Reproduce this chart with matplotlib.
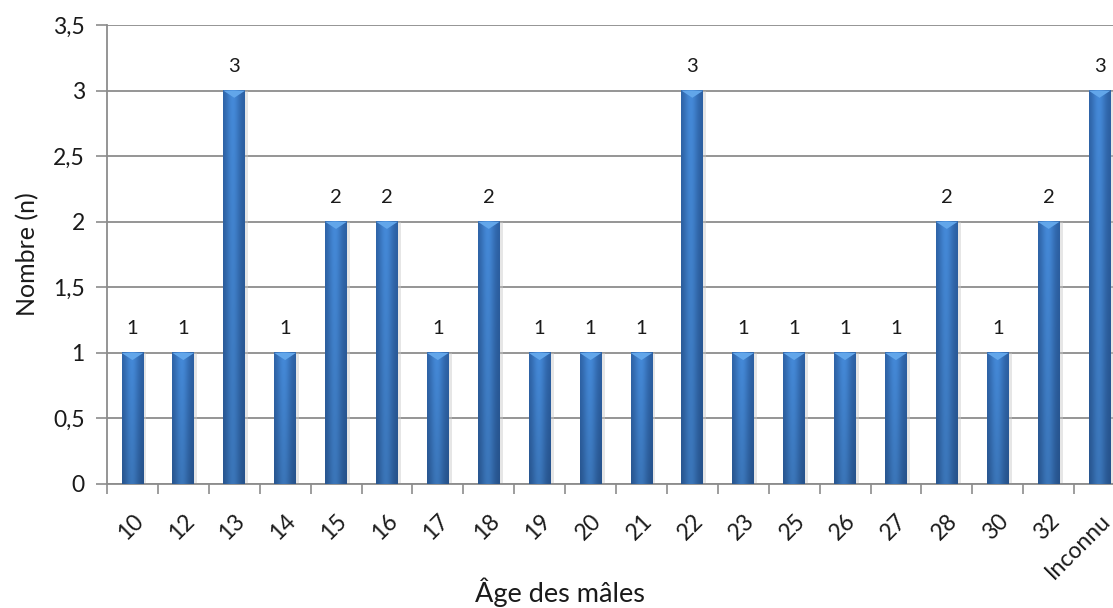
import numpy as np
import matplotlib.pyplot as plt
from matplotlib.ticker import FuncFormatter, MultipleLocator, FixedLocator

plt.rcParams['font.family'] = ['Lato', 'DejaVu Sans']

ages = ['10', '12', '13', '14', '15', '16', '17', '18', '19', '20',
        '21', '22', '23', '25', '26', '27', '28', '30', '32', 'Inconnu']
counts = [1, 1, 3, 1, 2, 2, 1, 2, 1, 1, 1, 3, 1, 1, 1, 1, 2, 1, 2, 3]

GRID = '#8c8c8c'
TEXT = '#1a1a1a'


def bar_gradient(n=64, m=64):
    """Cylinder-like shading: lighter centre, darker edges and bottom."""
    u = np.linspace(0, 1, n)
    v = np.linspace(0, 1, m)[:, None]
    light = np.array([0.27, 0.54, 0.85])
    dark = np.array([0.17, 0.37, 0.63])
    prof = np.exp(-((u - 0.45) / 0.32) ** 2)
    rgb = dark + (light - dark) * prof[None, :, None]
    rgb = rgb * (1.0 - 0.15 * v[:, :, None])  # top row first: darker at bottom
    return np.clip(rgb, 0, 1)


fig = plt.figure(figsize=(11.13, 6.08), dpi=100)
ax = fig.add_axes([107 / 1113, 124 / 608, 1 - 107 / 1113, 459 / 608])

x = np.arange(len(ages))
width = 0.43
tip = 0.055
grad = bar_gradient()
for xi, c in zip(x, counts):
    # soft shadow around the bar
    ax.bar(xi + 0.03, c, width + 0.06, bottom=0, color='#c8c8c8', alpha=0.45,
           zorder=2, linewidth=0)
    ax.imshow(grad, extent=(xi - width / 2, xi + width / 2, 0, c),
              aspect='auto', origin='upper', zorder=3, interpolation='bilinear')
    ax.fill([xi - width / 2, xi + width / 2, xi], [c, c, c - tip],
            color='#62a6ea', linewidth=0, zorder=4)
    ax.text(xi, c + 0.12, str(c), ha='center', va='bottom', fontsize=14.5,
            color=TEXT, zorder=5)

ax.set_xlim(-0.5, 19.5 - 12 / 50.9)
ax.set_ylim(0, 3.5)

ax.yaxis.set_major_locator(MultipleLocator(0.5))
ax.yaxis.set_major_formatter(FuncFormatter(
    lambda v, p: ('%g' % v).replace('.', ',')))
ax.grid(axis='y', color=GRID, linewidth=1.3, zorder=0)
ax.set_axisbelow(True)

ax.xaxis.set_major_locator(FixedLocator(x))
ax.set_xticklabels(ages, rotation=45, ha='right', va='top',
                   rotation_mode='anchor')
ax.xaxis.set_minor_locator(FixedLocator(np.arange(-0.5, 20, 1)))
ax.tick_params(axis='x', which='major', length=0, pad=19, labelsize=16.5,
               labelcolor=TEXT)
ax.tick_params(axis='x', which='minor', length=7, width=1.2, color=GRID)
ax.tick_params(axis='y', length=8, width=1.2, color=GRID, labelsize=16.5,
               labelcolor=TEXT, pad=8)

for s in ['top', 'right']:
    ax.spines[s].set_visible(False)
for s in ['left', 'bottom']:
    ax.spines[s].set_color(GRID)
    ax.spines[s].set_linewidth(1.3)

ax.set_ylabel('Nombre (n)', fontsize=18, color=TEXT, labelpad=10)
fig.text(560 / 1113, 1 - 592 / 608, 'Âge des mâles', ha='center',
         va='center', fontsize=19.5, color=TEXT)

plt.savefig('out.png', dpi=100)
